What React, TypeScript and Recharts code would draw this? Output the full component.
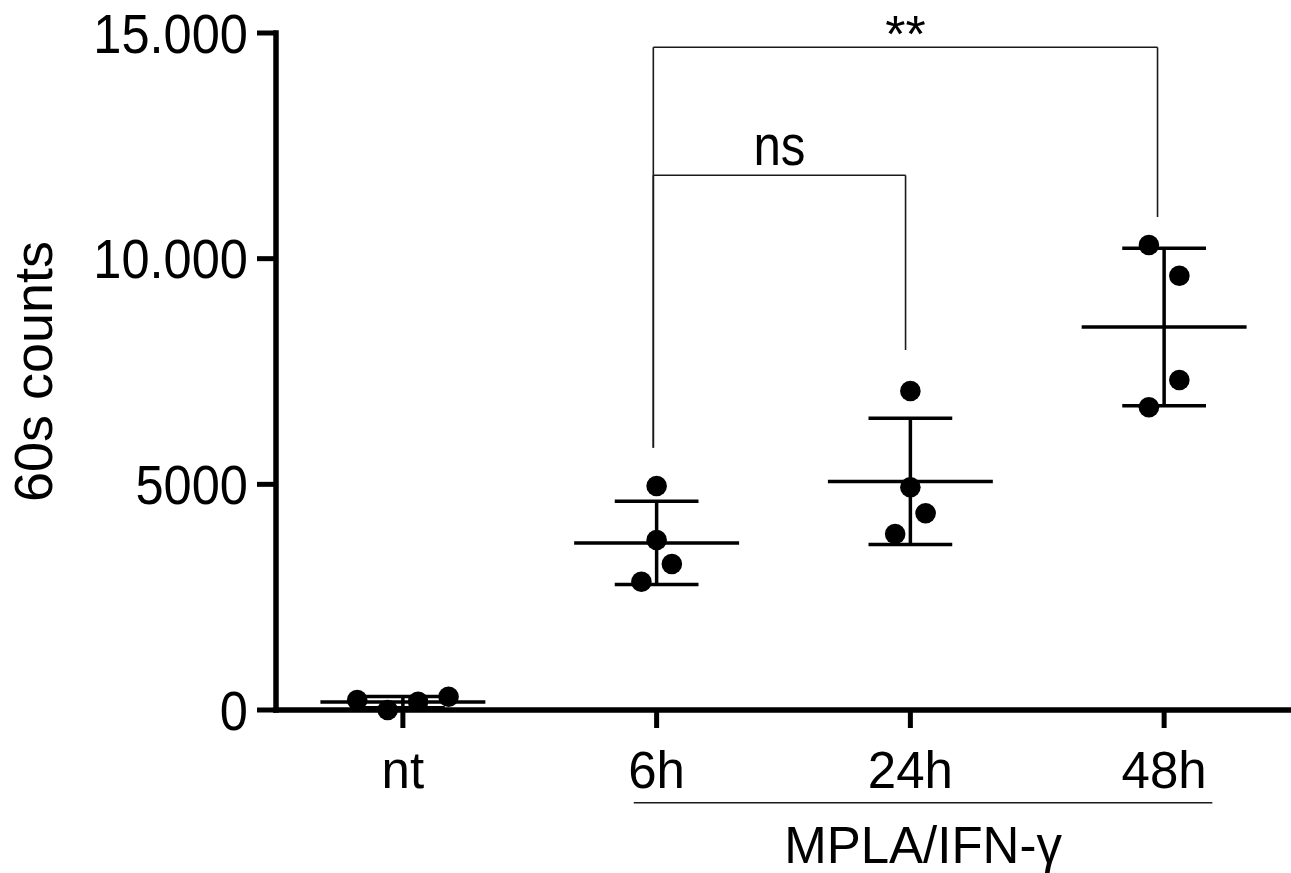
import React from 'react';
import { ComposedChart, Scatter, XAxis, YAxis, ReferenceLine } from 'recharts';

// ---- data ----
const groupLabels = ['nt', '6h', '24h', '48h'];
const groupPositions = [0, 1, 2, 3];
const ntValues = [221, 0, 184, 295];
const h6Values = [4963, 3767, 3235, 2843];
const h24Values = [7068, 4935, 4358, 3900];
const h48Values = [10304, 9623, 7312, 6707];
const ntJitter = [-0.18, -0.06, 0.06, 0.18];
const h6Jitter = [0, 0, 0.06, -0.06];
const h24Jitter = [0, 0, 0.06, -0.06];
const h48Jitter = [-0.06, 0.06, 0.06, -0.06];
const yTicks = [0, 5000, 10000, 15000];
const yTickLabels = ['0', '5000', '10.000', '15.000'];
const yAxisTitle = '60s counts';

// significance brackets
const bracketLabels = ['ns', '**'];
const bracketFrom = [0.987, 0.987];
const bracketTo = [1.981, 2.974];
const bracketTop = [11847, 14683];
const bracketLeftBottom = [5812, 5812];
const bracketRightBottom = [7976, 10923];

// treatment group underline
const treatmentLabel = 'MPLA/IFN-γ';
const treatmentFrom = 0.91;
const treatmentTo = 3.19;

// ---- derived ----
const allValues = [ntValues, h6Values, h24Values, h48Values];
const allJitter = [ntJitter, h6Jitter, h24Jitter, h48Jitter];

const points = allValues.flatMap((vals, g) =>
  vals.map((v, i) => ({ x: groupPositions[g] + allJitter[g][i], y: v }))
);

const stats = allValues.map((vals) => {
  const n = vals.length;
  const mean = vals.reduce((a, b) => a + b, 0) / n;
  const sd = Math.sqrt(vals.reduce((a, b) => a + (b - mean) * (b - mean), 0) / (n - 1));
  return { mean, sd };
});

const FONT = "'Liberation Sans', Arial, Helvetica, sans-serif";
const MEAN_HALF = 0.325;
const CAP_HALF = 0.165;
const UNDERLINE_Y = -2054;

const XTick = (props: any) => {
  const { x, y, payload } = props;
  const idx = groupPositions.indexOf(payload.value);
  return (
    <text x={x} y={y + 58} textAnchor="middle" fontSize={51} fontFamily={FONT} fill="#000">
      {groupLabels[idx]}
    </text>
  );
};

const YTick = (props: any) => {
  const { x, y, payload } = props;
  const idx = yTicks.indexOf(payload.value);
  return (
    <g transform={`translate(${x},${y}) scale(0.92,1)`}>
      <text x={0} y={0} dy="0.358em" textAnchor="end" fontSize={55} fontFamily={FONT} fill="#000">
        {yTickLabels[idx]}
      </text>
    </g>
  );
};

const YTitle = (props: any) => {
  const vb = props.viewBox || { x: 0, y: 33, width: 276, height: 677 };
  const bx = vb.x + 52;
  const cy = vb.y + vb.height / 2;
  return (
    <text
      x={bx}
      y={cy}
      transform={`rotate(-90, ${bx}, ${cy})`}
      textAnchor="middle"
      fontSize={54}
      fontFamily={FONT}
      fill="#000"
    >
      {yAxisTitle}
    </text>
  );
};

const Dot = (props: any) => {
  const { cx, cy } = props;
  if (cx == null || cy == null) return null;
  return <circle cx={cx} cy={cy} r={10.3} fill="#000" />;
};

const makeBracketLabel = (text: string) => (p: any) => {
  const vb = p.viewBox;
  const cx = vb.x + vb.width / 2;
  if (text === 'ns') {
    return (
      <g transform={`translate(${cx},${vb.y - 10}) scale(0.85,1)`}>
        <text x={0} y={0} textAnchor="middle" fontSize={58} fontFamily={FONT} fill="#000">
          {text}
        </text>
      </g>
    );
  }
  return (
    <text x={cx} y={vb.y + 5} textAnchor="middle" fontSize={52} fontFamily={FONT} fill="#000">
      {text}
    </text>
  );
};

const treatmentLabelContent = (p: any) => {
  const vb = p.viewBox;
  const cx = vb.x + vb.width / 2;
  return (
    <text x={cx} y={vb.y + 60} textAnchor="middle" fontSize={51} fontFamily={FONT} fill="#000">
      {treatmentLabel}
    </text>
  );
};

export default function App() {
  const summaryLines: React.ReactNode[] = [];
  stats.forEach((s, g) => {
    const gx = groupPositions[g];
    summaryLines.push(
      <ReferenceLine
        key={`mean-${g}`}
        segment={[{ x: gx - MEAN_HALF, y: s.mean }, { x: gx + MEAN_HALF, y: s.mean }]}
        stroke="#000"
        strokeWidth={3.5}
        ifOverflow="visible"
      />,
      <ReferenceLine
        key={`sdv-${g}`}
        segment={[{ x: gx, y: s.mean - s.sd }, { x: gx, y: s.mean + s.sd }]}
        stroke="#000"
        strokeWidth={3.5}
        ifOverflow="visible"
      />,
      <ReferenceLine
        key={`sdu-${g}`}
        segment={[{ x: gx - CAP_HALF, y: s.mean + s.sd }, { x: gx + CAP_HALF, y: s.mean + s.sd }]}
        stroke="#000"
        strokeWidth={3.5}
        ifOverflow="visible"
      />,
      <ReferenceLine
        key={`sdl-${g}`}
        segment={[{ x: gx - CAP_HALF, y: s.mean - s.sd }, { x: gx + CAP_HALF, y: s.mean - s.sd }]}
        stroke="#000"
        strokeWidth={3.5}
        ifOverflow="visible"
      />
    );
  });

  const bracketLines: React.ReactNode[] = [];
  bracketLabels.forEach((lab, b) => {
    bracketLines.push(
      <ReferenceLine
        key={`bl-${b}`}
        segment={[{ x: bracketFrom[b], y: bracketLeftBottom[b] }, { x: bracketFrom[b], y: bracketTop[b] }]}
        stroke="#1a1a1a"
        strokeWidth={1.6}
        ifOverflow="visible"
      />,
      <ReferenceLine
        key={`bt-${b}`}
        segment={[{ x: bracketFrom[b], y: bracketTop[b] }, { x: bracketTo[b], y: bracketTop[b] }]}
        stroke="#1a1a1a"
        strokeWidth={1.6}
        ifOverflow="visible"
        label={{ content: makeBracketLabel(lab) } as any}
      />,
      <ReferenceLine
        key={`br-${b}`}
        segment={[{ x: bracketTo[b], y: bracketTop[b] }, { x: bracketTo[b], y: bracketRightBottom[b] }]}
        stroke="#1a1a1a"
        strokeWidth={1.6}
        ifOverflow="visible"
      />
    );
  });

  return (
    <div style={{ position: 'absolute', left: 0, top: 0, width: 1291, height: 873, background: '#fff' }}>
      <ComposedChart width={1291} height={873} margin={{ top: 33, right: 0, bottom: 0, left: 0 }}>
        <XAxis
          type="number"
          dataKey="x"
          domain={[-0.5, 3.5]}
          ticks={groupPositions}
          interval={0}
          height={163}
          axisLine={{ stroke: '#000', strokeWidth: 5.5, strokeLinecap: 'square' } as any}
          tickLine={{ stroke: '#000', strokeWidth: 5 }}
          tickSize={18}
          tickMargin={2}
          tick={<XTick />}
        />
        <YAxis
          type="number"
          dataKey="y"
          domain={[0, 15000]}
          ticks={yTicks}
          interval={0}
          width={276}
          axisLine={{ stroke: '#000', strokeWidth: 5.5, strokeLinecap: 'square' } as any}
          tickLine={{ stroke: '#000', strokeWidth: 5 }}
          tickSize={19}
          tickMargin={9}
          tick={<YTick />}
          label={{ content: YTitle } as any}
        />
        {summaryLines}
        {bracketLines}
        <ReferenceLine
          segment={[{ x: treatmentFrom, y: UNDERLINE_Y }, { x: treatmentTo, y: UNDERLINE_Y }]}
          stroke="#1a1a1a"
          strokeWidth={1.6}
          ifOverflow="visible"
          label={{ content: treatmentLabelContent } as any}
        />
        <Scatter data={points} dataKey="y" isAnimationActive={false} shape={<Dot />} />
      </ComposedChart>
    </div>
  );
}
